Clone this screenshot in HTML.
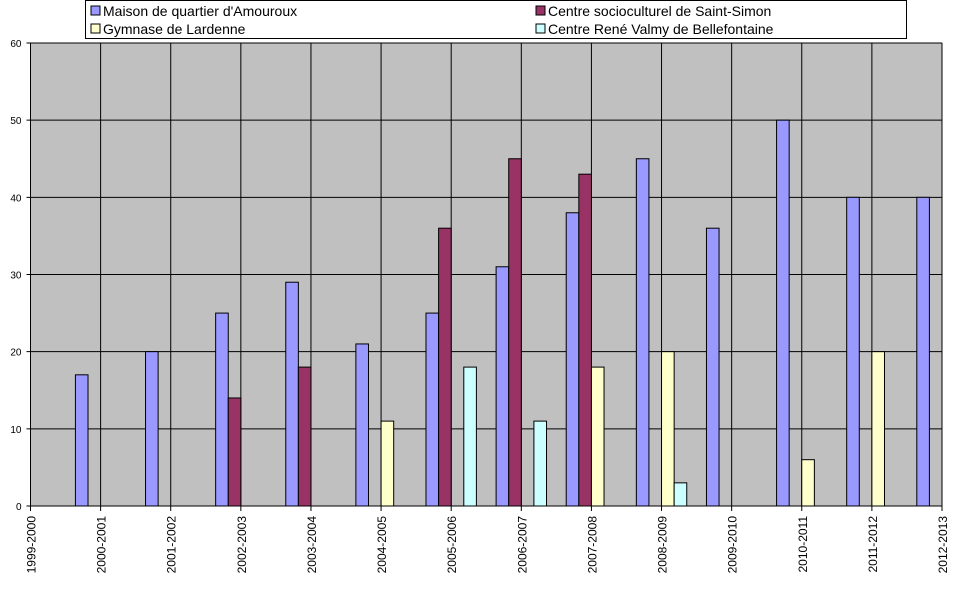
<!DOCTYPE html>
<html><head><meta charset="utf-8"><style>
body{margin:0;background:#fff;width:958px;height:589px;overflow:hidden;font-family:"Liberation Sans",Arial,sans-serif}
</style></head><body>
<svg id="chart" width="958" height="589" xmlns="http://www.w3.org/2000/svg" font-family="Liberation Sans, Arial, sans-serif"></svg>
<script>
const categories=["1999-2000","2000-2001","2001-2002","2002-2003","2003-2004","2004-2005","2005-2006","2006-2007","2007-2008","2008-2009","2009-2010","2010-2011","2011-2012","2012-2013"];
const amouroux=[0,17,20,25,29,21,25,31,38,45,36,50,40,40];
const saintSimon=[0,0,0,14,18,0,36,45,43,0,0,0,0,0];
const lardenne=[0,0,0,0,0,11,0,0,18,20,0,6,20,0];
const bellefontaine=[0,0,0,0,0,0,18,11,0,3,0,0,0,0];
const yTicks=[0,10,20,30,40,50,60];
const seriesNames=["Maison de quartier d'Amouroux","Centre socioculturel de Saint-Simon","Gymnase de Lardenne","Centre René Valmy de Bellefontaine"];
const series=[amouroux,saintSimon,lardenne,bellefontaine];
const colors=["#9999ff","#993366","#ffffcc","#ccffff"];
const svg=document.getElementById('chart');const NS="http://www.w3.org/2000/svg";
const L=30.5,R=942,T=43,B=506;
const x=i=>L+i*(R-L)/(categories.length-1);
const y=v=>B-v*(B-T)/60;
function el(t,a,p){const e=document.createElementNS(NS,t);for(const k in a)e.setAttribute(k,a[k]);(p||svg).appendChild(e);return e;}
const plot=el('rect',{x:L,y:T,width:R-L,height:B-T,fill:'#c0c0c0',stroke:'#808080'});


yTicks.forEach(v=>{
 const g=el('line',{x1:L-4,x2:R,y1:y(v),y2:y(v),stroke:'#000','stroke-width':1});
 
 
 const t=el('text',{x:L-9,y:y(v)+4,'text-anchor':'end','font-size':10,fill:'#000'});t.textContent=v;
 
 
});
categories.forEach((c,i)=>{
 const g=el('line',{x1:x(i),x2:x(i),y1:T,y2:B+5,stroke:'#000','stroke-width':1});
 
 
 const t=el('text',{transform:`translate(${x(i)+5},${B+10}) rotate(-90)`,'text-anchor':'end','font-size':12,fill:'#000'});t.textContent=c;
 
 
});
const bw=12.6;
series.forEach((s,si)=>{
 s.forEach((v,i)=>{
  if(!v)return;
  const r=el('rect',{x:x(i)+(si-2)*bw,y:y(v),width:bw,height:B-y(v),fill:colors[si],stroke:'#000','stroke-width':1});
  
  
 });
});
const lg=el('rect',{x:85.5,y:0.5,width:821,height:38,fill:'#fff',stroke:'#000'});


seriesNames.forEach((n,si)=>{
 const lx=si%2?536:91, ly=si<2?6:24;
 const sq=el('rect',{x:lx,y:ly,width:9,height:9,fill:colors[si],stroke:'#000'});
 
 
 const t=el('text',{x:lx+12,y:ly+10,'font-size':14,fill:'#000'});t.textContent=n;
 
 
});
</script>
</body></html>
